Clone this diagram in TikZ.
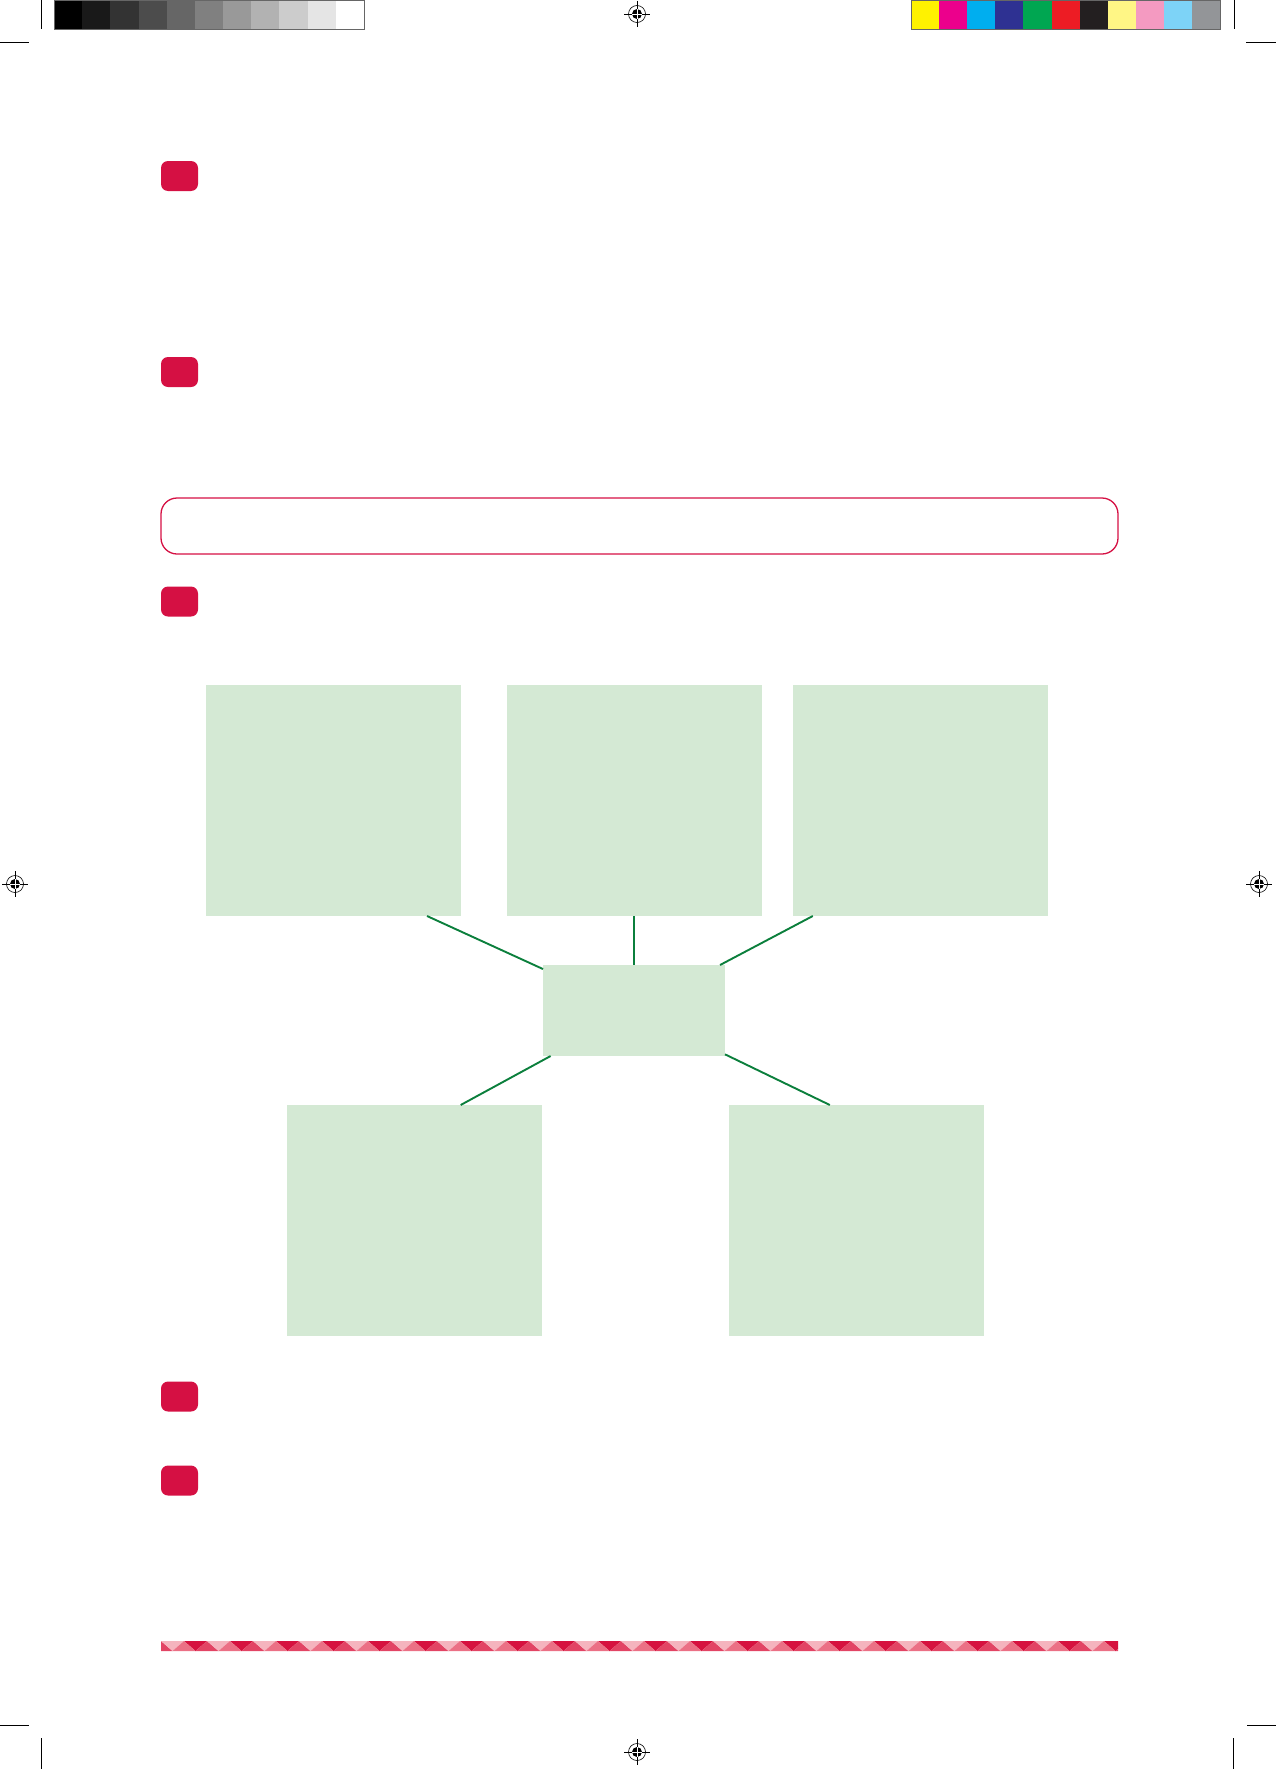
\documentclass[tikz,border=0pt]{standalone}
\usepackage{tikz}
\usetikzlibrary{positioning}

\definecolor{crimson}{HTML}{D51043}
\definecolor{boxgreen}{HTML}{D4E9D4}
\definecolor{linkgreen}{HTML}{0B7F3C}
\definecolor{stripa}{HTML}{F5B4BE}
\definecolor{stripb}{HTML}{EB7085}
\definecolor{stripc}{HTML}{D6123F}
\definecolor{stripd}{HTML}{E24464}

\tikzset{
  bullet/.style={fill=crimson, rounded corners=7pt, minimum width=37pt,
    minimum height=30pt, inner sep=0pt, outer sep=0pt},
  answerbox/.style={draw=crimson, line width=1.3pt, rounded corners=16pt,
    minimum width=957pt, minimum height=56pt, inner sep=0pt},
  greenbox/.style={fill=boxgreen, minimum width=255pt, minimum height=231pt,
    inner sep=0pt, outer sep=0pt},
  hubbox/.style={fill=boxgreen, minimum width=182pt, minimum height=91pt,
    inner sep=0pt, outer sep=0pt},
  link/.style={draw=linkgreen, line width=1.9pt},
  cropline/.style={line width=0.9pt}
}

\begin{document}
\begin{tikzpicture}[x=1pt,y=-1pt]
  \useasboundingbox (0,0) rectangle (1276,1769);

  % control strips
  \foreach \g [count=\i from 0] in {100,90,80,70,60,50,40,30,20,10,0}
    \fill[black!\g] (54+28.18*\i,0) rectangle (54+28.18*\i+28.18,29);
  \draw[black!60, line width=0.8pt] (54,0) rectangle (364,29);
  \foreach \c [count=\i from 0] in {FFF200,EC008C,00AEEF,2E3192,00A651,ED1C24,231F20,FFF685,F49AC1,7DD3F7,939598}
  {
    \definecolor{patch}{HTML}{\c}
    \fill[patch] (911+28.1*\i,0) rectangle (911+28.1*\i+28.1,29);
  }
  \draw[black!60, line width=0.8pt] (911,0) rectangle (1220,29);

  % crop marks
  \draw[cropline] (41,0) -- (41,29);
  \draw[cropline] (0,42) -- (29,42);
  \draw[cropline] (1234,0) -- (1234,29);
  \draw[cropline] (1246,42) -- (1276,42);
  \draw[cropline] (0,1725) -- (29,1725);
  \draw[cropline] (41,1738) -- (41,1769);
  \draw[cropline] (1247,1725) -- (1276,1725);
  \draw[cropline] (1233,1738) -- (1233,1769);

  % registration marks
  \foreach \p in {(637,14),(637,1752),(15,884),(1259,884)}
  {
    \draw[line width=0.6pt] \p circle[radius=8.5pt];
    \fill \p circle[radius=5pt];
    \draw[line width=0.7pt] \p ++(-13,0) -- ++(26,0);
    \draw[line width=0.7pt] \p ++(0,-13) -- ++(0,26);
    \draw[white, line width=0.5pt] \p ++(-5,0) -- ++(10,0);
    \draw[white, line width=0.5pt] \p ++(0,-5) -- ++(0,10);
  }

  % question bullets
  \node[bullet] (q1) at (179.5,176) {};
  \node[bullet] (q2) at (179.5,372) {};
  \node[bullet] (q3) at (179.5,601.5) {};
  \node[bullet] (q4) at (179.5,1396.5) {};
  \node[bullet] (q5) at (179.5,1480.5) {};

  % answer line
  \node[answerbox] (ans) at (639.5,526) {};

  % spider diagram
  \node[hubbox] (hub) at (634,1010.5) {};
  \node[greenbox] (topA) at (333.5,800.5) {};
  \node[greenbox] (topB) at (634,800.5) {};
  \node[greenbox] (topC) at (920.5,800.5) {};
  \node[greenbox] (botL) at (414,1220.5) {};
  \node[greenbox] (botR) at (856.5,1220.5) {};

  \draw[link] (topA.-51) -- (hub);
  \draw[link] (topB.south) -- (hub.north);
  \draw[link] (topC.-133) -- (hub);
  \draw[link] (botL.68) -- (hub);
  \draw[link] (botR.103) -- (hub);

  % footer strip
  \begin{scope}
    \clip (161,1641) rectangle (1118,1651);
    \foreach \i in {-1,...,21}
    {
      \pgfmathsetmacro{\xa}{161+46*\i}
      \fill[stripa] (\xa,1641) -- (\xa+23,1641) -- (\xa+11.5,1651) -- cycle;
      \fill[stripc] (\xa+23,1641) -- (\xa+46,1641) -- (\xa+34.5,1651) -- cycle;
      \fill[stripb] (\xa+11.5,1651) -- (\xa+34.5,1651) -- (\xa+23,1641) -- cycle;
      \fill[stripd] (\xa+34.5,1651) -- (\xa+57.5,1651) -- (\xa+46,1641) -- cycle;
    }
  \end{scope}
\end{tikzpicture}
\end{document}
